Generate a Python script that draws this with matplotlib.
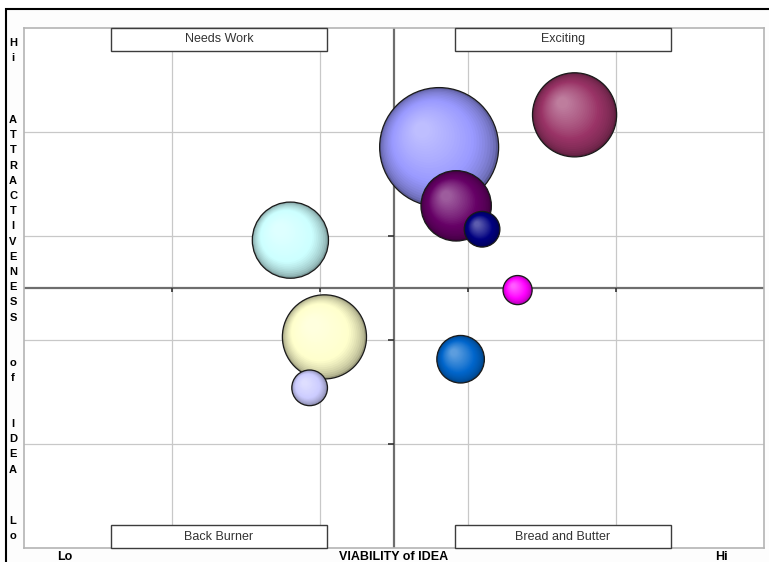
import matplotlib
matplotlib.use("Agg")
import matplotlib.pyplot as plt
import numpy as np
from matplotlib.patches import Ellipse, Rectangle
from matplotlib.colors import to_rgb

plt.rcParams['font.family'] = ['Liberation Sans', 'DejaVu Sans']

# bubble data (viability = x, attractiveness = y, bubble size)
viability = [5.61, 7.44, 4.06, 3.60, 5.84, 5.90, 3.86, 6.19, 6.67]
attractiveness = [7.71, 8.33, 4.06, 5.92, 6.58, 3.63, 3.08, 6.13, 4.96]
bubble_size = [100, 50, 50, 41, 35, 16, 9, 9, 6]
bubble_colors = ['#9999FF', '#993366', '#FFFFCC', '#CCFFFF', '#660066',
                 '#0066CC', '#CCCCFF', '#000080', '#FF00FF']

quadrants = ['Needs Work', 'Exciting', 'Back Burner', 'Bread and Butter']
x_labels = ['Lo', 'VIABILITY of IDEA', 'Hi']
y_top = 'Hi'
y_mid = 'ATTRACTIVENESS  of  IDEA'
y_bot = 'Lo'

W, H = 769, 562
fig = plt.figure(figsize=(W / 100, H / 100), dpi=100)
fig.patch.set_facecolor('white')

# outer frame
fig.add_artist(Rectangle((6 / W, -0.2), 2, 1.2 - 9 / H, transform=fig.transFigure,
                         fill=True, facecolor='#fdfdfd', edgecolor='black', lw=1.5, zorder=0))

ax_l, ax_t, ax_r, ax_b = 24, 28, 764, 548
ax = fig.add_axes([ax_l / W, 1 - ax_b / H, (ax_r - ax_l) / W, (ax_b - ax_t) / H])
ax.set_xlim(0, 10)
ax.set_ylim(0, 10)
ax.set_facecolor('white')
for s in ax.spines.values():
    s.set_color('#b4b4b4')
    s.set_linewidth(1.2)
ax.set_xticks([])
ax.set_yticks([])

px_x = (ax_r - ax_l) / 10.0
px_y = (ax_b - ax_t) / 10.0

# gridlines
for g in [2, 4, 6, 8]:
    ax.axvline(g, color='#c8c8c8', lw=0.9, zorder=1)
    ax.axhline(g, color='#c8c8c8', lw=0.9, zorder=1)

# centre axes
ax.axvline(5, color='#6e6e6e', lw=1.6, zorder=2)
ax.axhline(5, color='#6e6e6e', lw=1.6, zorder=2)
ax.plot([5] * 4, [2, 4, 6, 8], ls='none', marker=0, ms=4, mew=1.2, color='#333333', zorder=2)
ax.plot([2, 4, 6, 8], [5] * 4, ls='none', marker=3, ms=3, mew=1.2, color='#333333', zorder=2)


def shade(base, t):
    base = np.array(to_rgb(base))
    dark = base * 0.6
    light = base + (1 - base) * 0.38
    if t < 0.55:
        u = t / 0.55
        return dark + (base - dark) * u
    u = (t - 0.55) / 0.45
    return base + (light - base) * u


r_max = 59.5
z = 10
for x, y, s, c in zip(viability, attractiveness, bubble_size, bubble_colors):
    r = r_max * np.sqrt(s / max(bubble_size))
    n = 26
    for k in range(n):
        f = k / n * 0.9
        rr = r * (1 - f)
        cx = x + (-0.33 * r * f) / px_x
        cy = y + (0.33 * r * f) / px_y
        col = shade(c, (k / n) ** 0.55)
        ax.add_patch(Ellipse((cx, cy), 2 * rr / px_x, 2 * rr / px_y,
                             facecolor=col, edgecolor='none', zorder=z))
        z += 1
    ax.add_patch(Ellipse((x, y), 2 * r / px_x, 2 * r / px_y, facecolor='none',
                         edgecolor='#1a1a1a', lw=0.9, zorder=z))
    z += 1

# quadrant label boxes
bw = (327 - 111) / px_x
bh = 23 / px_y
box_x = [(111 - ax_l) / px_x, (455 - ax_l) / px_x]
for i, name in enumerate(quadrants):
    bx = box_x[i % 2]
    by = 10 - bh if i < 2 else 0
    ax.add_patch(Rectangle((bx, by), bw, bh, facecolor='white', edgecolor='#3c3c3c',
                           lw=1.0, zorder=500, clip_on=False))
    ax.text(bx + bw / 2, by + bh / 2, name, ha='center', va='center', fontsize=9,
            color='#333333', zorder=501)

# bottom axis words
fig.text(65 / W, 1 - 551 / H, x_labels[0], ha='center', va='top', fontsize=9, fontweight='bold')
fig.text(394 / W, 1 - 551 / H, x_labels[1], ha='center', va='top', fontsize=9, fontweight='bold')
fig.text(721 / W, 1 - 551 / H, x_labels[2], ha='center', va='top', fontsize=9, fontweight='bold')


# vertical stacked letters
def stack(word, y0, step=15.2):
    for i, ch in enumerate(word):
        if ch.strip():
            fig.text(13 / W, 1 - (y0 + i * step) / H, ch, ha='center', va='center',
                     fontsize=8, fontweight='bold')


stack(y_top, 43)
stack(y_mid, 120)
stack(y_bot, 521)

fig.savefig('out.png', dpi=100)
